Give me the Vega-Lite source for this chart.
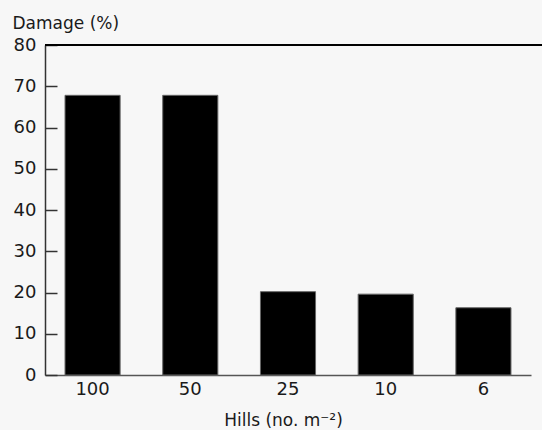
{
  "$schema": "https://vega.github.io/schema/vega-lite/v6.json",
  "width": 497,
  "height": 330,
  "autosize": {"type": "none"},
  "padding": {"left": 45, "top": 45, "right": 0, "bottom": 55},
  "background": "#f7f7f7",
  "config": {
    "view": {"stroke": null},
    "font": "DejaVu Sans"
  },
  "data": {
    "values": [
      {"hills": "100", "damage": 67.8},
      {"hills": "50", "damage": 67.8},
      {"hills": "25", "damage": 20.2},
      {"hills": "10", "damage": 19.6},
      {"hills": "6", "damage": 16.3}
    ]
  },
  "layer": [
    {
      "mark": {"type": "bar", "color": "#000000", "stroke": "#666666", "strokeWidth": 1},
      "encoding": {
        "x": {
          "field": "hills",
          "type": "nominal",
          "sort": null,
          "scale": {"paddingInner": 0.436, "paddingOuter": 0.205, "range": [0, 486]},
          "axis": {
            "title": "Hills (no. m⁻²)",
            "titleFont": "DejaVu Sans",
            "titleFontSize": 17,
            "titleFontWeight": "normal",
            "titleColor": "#1a1a1a",
            "titleBaseline": "alphabetic",
            "titleX": 238,
            "titleY": 50,
            "labelAngle": 0,
            "labelFont": "DejaVu Sans",
            "labelFontSize": 18,
            "labelColor": "#1a1a1a",
            "labelPadding": 5,
            "ticks": false,
            "domainColor": "#555555",
            "domainWidth": 1.5
          }
        },
        "y": {
          "field": "damage",
          "type": "quantitative",
          "scale": {"domain": [0, 80], "nice": false},
          "axis": {
            "title": "Damage (%)",
            "titleFont": "DejaVu Sans",
            "titleFontSize": 17,
            "titleFontWeight": "normal",
            "titleColor": "#1a1a1a",
            "titleAngle": 0,
            "titleAlign": "left",
            "titleBaseline": "alphabetic",
            "titleX": -33,
            "titleY": -17,
            "values": [0, 10, 20, 30, 40, 50, 60, 70, 80],
            "labelFont": "DejaVu Sans",
            "labelFontSize": 18,
            "labelColor": "#1a1a1a",
            "labelPadding": 21,
            "tickSize": -12,
            "tickColor": "#333333",
            "tickWidth": 1.5,
            "domainColor": "#333333",
            "domainWidth": 1.5,
            "grid": false
          }
        }
      }
    },
    {
      "mark": {"type": "rule", "color": "#000000", "strokeWidth": 2},
      "encoding": {"y": {"datum": 80}}
    }
  ]
}
